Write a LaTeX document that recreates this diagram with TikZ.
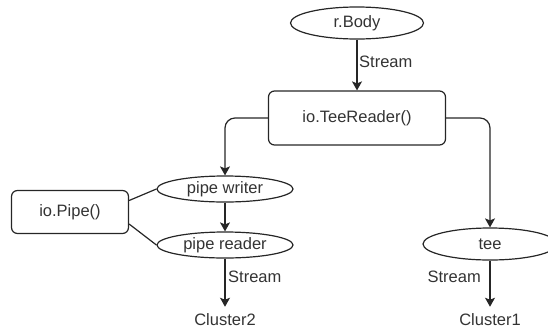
\documentclass[tikz,border=0pt]{standalone}
\usepackage{fontspec}
\setmainfont{Liberation Sans}
\usetikzlibrary{shapes.geometric,arrows.meta,calc}
\begin{document}
\begin{tikzpicture}[x=1pt,y=-1pt,
  every node/.style={font=\fontsize{16.5}{19}\selectfont, text=black!80},
  ell/.style={draw=black!85, ellipse, line width=1.2pt, inner sep=0pt},
  rbox/.style={draw=black!85, rectangle, rounded corners=6pt, line width=1.2pt, inner sep=0pt},
  conn/.style={draw=black!85, line width=1.2pt},
  arr/.style={conn, -{Stealth[length=9pt,width=10pt,inset=2pt]}},
  lbl/.style={inner sep=0pt}]
\useasboundingbox (0,0) rectangle (548,330);
\node[ell, minimum width=133pt, minimum height=32pt] (body) at (357,23) {r.Body};
\node[rbox, minimum width=177pt, minimum height=54pt] (tr) at (357,118) {io.TeeReader()};
\node[rbox, minimum width=117pt, minimum height=43pt] (pipe) at (70,212) {io.Pipe()};
\node[ell, minimum width=136pt, minimum height=26pt] (pw) at (225,189) {pipe writer};
\node[ell, minimum width=136pt, minimum height=26pt] (pr) at (225,245) {pipe reader};
\node[ell, minimum width=134pt, minimum height=32pt] (tee) at (490,244) {tee};
\node[lbl, anchor=west] (s1) at (359,62) {Stream};
\node[lbl, anchor=west] (s2) at (228,277) {Stream};
\node[lbl, anchor=east] (s3) at (481,277) {Stream};
\node[lbl, inner ysep=7pt] (c2) at (225,320) {Cluster2};
\node[lbl, inner ysep=7pt] (c1) at (490,320) {Cluster1};
\draw[arr] (body.south) -- (tr.north);
\draw[arr, rounded corners=10pt] (tr.west) -- (tr.west -| pw.north) -- (pw.north);
\draw[arr, rounded corners=10pt] (tr.east) -- (tr.east -| tee.north) -- (tee.north);
\draw[arr] (pw.south) -- (pr.north);
\draw[conn] ($(pipe.east)+(0,-11.5)$) -- (pw.west);
\draw[conn] ($(pipe.east)+(0,12)$) -- (pr.west);
\draw[arr] (pr.south) -- (c2.north);
\draw[arr] (tee.south) -- (c1.north);
\end{tikzpicture}
\end{document}
